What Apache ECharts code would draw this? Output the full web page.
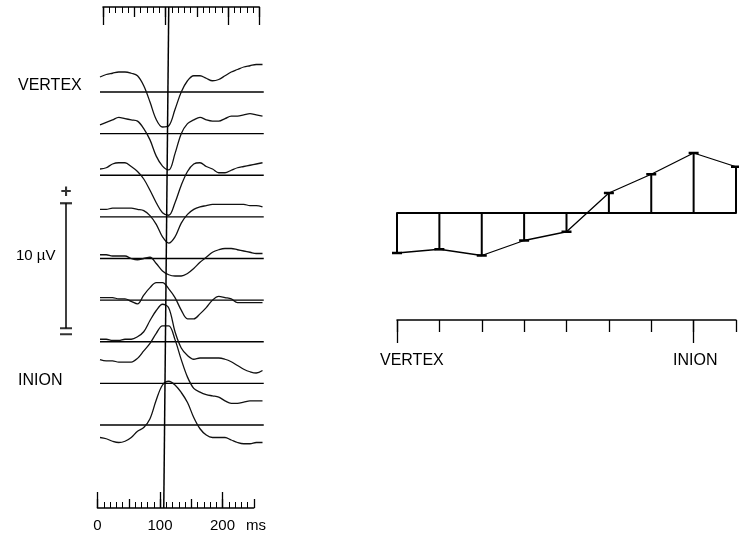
<!DOCTYPE html>
<html>
<head>
<meta charset="utf-8">
<script src="https://cdn.jsdelivr.net/npm/echarts@6/dist/echarts.min.js"></script>
<style>
  html, body { margin: 0; background: #fff; }
  #chart { width: 739px; height: 542px; }
</style>
</head>
<body>
<div id="chart"></div>
<script>
// latency of each sample (ms)
const times = [0, 10, 20, 30, 40, 50, 60, 70, 80, 90, 100, 110, 120, 130, 140, 150, 160, 170, 180, 190, 200, 210, 220, 230, 240, 250, 260];

// evoked responses (µV), vertex (top) to inion (bottom)
const trace1 = [1.2, 1.4, 1.5, 1.6, 1.6, 1.5, 1.3, 0.5, -0.8, -2.2, -2.8, -2.7, -1.4, 0, 0.9, 1.3, 1.3, 1.1, 0.9, 1.0, 1.3, 1.6, 1.8, 2.0, 2.1, 2.2, 2.2];
const trace2 = [0.7, 0.9, 1.1, 1.3, 1.2, 1.1, 1.0, 0.4, -0.5, -1.8, -2.6, -2.9, -1.6, 0, 0.8, 1.1, 1.3, 1.1, 1.0, 1.0, 1.2, 1.4, 1.4, 1.5, 1.6, 1.5, 1.4];
const trace3 = [0.5, 0.6, 0.9, 1.0, 1.0, 0.7, 0.3, -0.3, -1.2, -2.2, -3.0, -3.2, -2.2, -0.8, 0.3, 0.9, 1.0, 0.7, 0.5, 0.2, 0.2, 0.4, 0.6, 0.7, 0.8, 0.9, 1.0];
const trace4 = [0.6, 0.6, 0.7, 0.7, 0.7, 0.7, 0.6, 0.5, 0.1, -0.6, -1.6, -2.1, -1.6, -0.5, 0.2, 0.6, 0.8, 0.9, 1.0, 1.0, 1.0, 1.0, 1.0, 1.0, 0.9, 0.9, 0.8];
const trace5 = [0.3, 0.3, 0.2, 0.2, 0.2, 0, -0.1, 0, 0.1, -0.4, -1.0, -1.3, -1.4, -1.4, -1.2, -0.8, -0.3, 0.1, 0.5, 0.7, 0.8, 0.8, 0.7, 0.6, 0.5, 0.4, 0.4];
const trace6 = [0.2, 0.2, 0.2, 0.1, 0.1, -0.1, -0.3, 0.4, 1.0, 1.4, 1.4, 0.9, 0.2, -0.8, -1.5, -1.5, -1.1, -0.6, 0, 0.3, 0.2, 0.1, -0.2, -0.2, -0.2, -0.2, -0.2];
const trace7 = [0.2, 0.2, 0.1, 0.1, 0.2, 0.2, 0.4, 0.8, 1.7, 2.5, 3.0, 2.7, 0.8, -0.5, -1.1, -1.4, -1.3, -1.3, -1.3, -1.3, -1.4, -1.6, -1.9, -2.2, -2.4, -2.5, -2.3];
const trace8 = [1.9, 1.8, 1.8, 1.7, 1.7, 1.7, 2.0, 2.6, 3.2, 4.0, 4.6, 4.6, 3.5, 1.9, 0.5, -0.4, -0.7, -0.9, -1.0, -1.1, -1.4, -1.6, -1.6, -1.5, -1.4, -1.4, -1.4];
const trace9 = [-1.0, -1.1, -1.3, -1.4, -1.3, -1.0, -0.5, -0.2, 0.5, 2.0, 3.2, 3.5, 3.2, 2.6, 1.8, 0.6, -0.3, -0.8, -1.0, -1.0, -1.0, -1.2, -1.4, -1.5, -1.5, -1.4, -1.4];

// amplitude at the peak latency per electrode (µV)
const electrodes = ['1', '2', '3', '4', '5', '6', '7', '8', '9'];
const amplitudes = [-3.2, -2.9, -3.4, -2.2, -1.5, 1.6, 3.1, 4.8, 3.7];

const timeLabels = [0, 100, 200];
const scaleBarUV = 10;
const peakLineTop = 110;     // ms, the line is slightly tilted in the scan
const peakLineBottom = 102;

// layout
const FONT = '"Liberation Sans", Arial, sans-serif';
const Y_MIN = -40.08;        // 12.5 px per µV over 501 px
const baseOf = k => -6.8 - 3.33 * k;
const SCALE_TOP = -15.7;
const BLACK = '#000';

const traces = [trace1, trace2, trace3, trace4, trace5, trace6, trace7, trace8, trace9];

const series = [];
traces.forEach((tr, k) => {
  const b = baseOf(k);
  series.push({
    type: 'line', xAxisIndex: 0, yAxisIndex: 0, symbol: 'none', silent: true,
    data: [[0, b], [262, b]],
    lineStyle: { color: BLACK, width: 1.4 }
  });
  series.push({
    type: 'line', xAxisIndex: 0, yAxisIndex: 0, symbol: 'none', smooth: 0.35,
    data: tr.map((v, i) => [times[i], v + b]),
    lineStyle: { color: '#111', width: 1.3 }
  });
});

// vertical latency marker
series.push({
  type: 'line', xAxisIndex: 0, yAxisIndex: 0, symbol: 'none', silent: true,
  data: [[peakLineTop, 0], [peakLineBottom, Y_MIN]],
  lineStyle: { color: BLACK, width: 1.5 }
});

// 10 µV calibration bar
series.push({
  type: 'line', xAxisIndex: 5, yAxisIndex: 5, symbol: 'none', silent: true,
  data: [[0, SCALE_TOP], [0, SCALE_TOP - scaleBarUV]],
  lineStyle: { color: BLACK, width: 1.5 }
});
series.push({
  type: 'scatter', xAxisIndex: 5, yAxisIndex: 5, silent: true,
  data: [[0, SCALE_TOP]], symbol: 'rect', symbolSize: [12, 2.2],
  itemStyle: { color: BLACK },
  label: { show: true, position: 'top', distance: 1, formatter: '+', color: BLACK, fontSize: 19, fontWeight: 'bold', fontFamily: FONT }
});
series.push({
  type: 'scatter', xAxisIndex: 5, yAxisIndex: 5, silent: true,
  data: [[0, SCALE_TOP - scaleBarUV]],
  symbol: 'path://M0,0H12V2H0ZM0,6H12V8H0Z', symbolSize: [12, 8], symbolOffset: [0, 3],
  itemStyle: { color: BLACK }
});

// right panel: amplitude profile
series.push({
  type: 'bar', xAxisIndex: 6, yAxisIndex: 6, barWidth: 2, silent: true,
  data: amplitudes.map((v, i) => [i, v]),
  itemStyle: { color: BLACK }
});
series.push({
  type: 'line', xAxisIndex: 6, yAxisIndex: 6, silent: true,
  data: amplitudes.map((v, i) => [i, v]),
  symbol: 'rect', symbolSize: [10, 2.5],
  itemStyle: { color: BLACK },
  lineStyle: { color: BLACK, width: 1.3 }
});

const hidden = (gridIndex, min, max) => ({ gridIndex, type: 'value', min, max, show: false });

const ruler = (gridIndex, position, max, interval, len, withLine, minor) => ({
  gridIndex, type: 'value', position, min: 0, max, interval,
  axisLine: { show: withLine, onZero: false, lineStyle: { color: BLACK, width: 1.5 } },
  axisTick: { show: true, inside: true, length: len, lineStyle: { color: BLACK, width: 1.3 } },
  minorTick: { show: minor, splitNumber: 5, length: 6, lineStyle: { color: BLACK, width: 1 } },
  axisLabel: { show: false },
  splitLine: { show: false }
});

const bottomLabels = ruler(4, 'bottom', 200, 100, 16, false, false);
bottomLabels.axisLabel = {
  show: true, margin: 10, color: BLACK, fontSize: 15, fontFamily: FONT,
  formatter: v => (timeLabels.indexOf(v) >= 0 ? String(v) : '')
};

const option = {
  backgroundColor: '#fff',
  animation: false,
  grid: [
    { left: 100, top: 7, width: 163.75, height: 501 },   // 0 traces
    { left: 103, top: 7, width: 156.25, height: 50 },    // 1 top ruler
    { left: 103, top: 7, width: 156.25, height: 50 },    // 2 top ruler long ticks
    { left: 97.5, top: 458, width: 156.25, height: 50 }, // 3 bottom ruler
    { left: 97.5, top: 458, width: 125, height: 50 },    // 4 bottom ruler long ticks
    { left: 61, top: 7, width: 10, height: 501 },        // 5 calibration bar
    { left: 397, top: 150.5, width: 339, height: 125 },  // 6 amplitude profile
    { left: 397, top: 300, width: 339, height: 20 },     // 7 electrode ruler
    { left: 397, top: 300, width: 339, height: 20 }      // 8 electrode ruler long ticks
  ],
  xAxis: [
    hidden(0, 0, 262),
    ruler(1, 'top', 250, 50, 10, true, true),
    ruler(2, 'top', 250, 100, 18, false, false),
    ruler(3, 'bottom', 250, 50, 9, true, true),
    bottomLabels,
    hidden(5, -1, 1),
    {
      gridIndex: 6, type: 'value', min: 0, max: 8,
      axisLine: { show: true, onZero: true, lineStyle: { color: BLACK, width: 2 } },
      axisTick: { show: false }, axisLabel: { show: false }, splitLine: { show: false }
    },
    {
      gridIndex: 7, type: 'category', data: electrodes, boundaryGap: false, position: 'bottom',
      axisLine: { show: true, onZero: false, lineStyle: { color: BLACK, width: 1.5 } },
      axisTick: { show: true, length: 12, interval: 0, lineStyle: { color: BLACK, width: 1.3 } },
      axisLabel: { show: false }, splitLine: { show: false }
    },
    {
      gridIndex: 8, type: 'category', data: electrodes, boundaryGap: false, position: 'bottom',
      axisLine: { show: false, onZero: false },
      axisTick: { show: true, length: 23, interval: i => i === 0 || i === 7, lineStyle: { color: BLACK, width: 1.3 } },
      axisLabel: { show: false }, splitLine: { show: false }
    }
  ],
  yAxis: [
    hidden(0, Y_MIN, 0),
    hidden(1, 0, 1),
    hidden(2, 0, 1),
    hidden(3, 0, 1),
    hidden(4, 0, 1),
    hidden(5, Y_MIN, 0),
    hidden(6, -5, 5),
    hidden(7, 0, 1),
    hidden(8, 0, 1)
  ],
  graphic: [
    { type: 'text', x: 18, y: 86, style: { text: 'VERTEX', fill: BLACK, fontSize: 16, fontFamily: FONT, verticalAlign: 'middle' } },
    { type: 'text', x: 18, y: 381, style: { text: 'INION', fill: BLACK, fontSize: 16, fontFamily: FONT, verticalAlign: 'middle' } },
    { type: 'text', x: 16, y: 256, style: { text: '10 µV', fill: BLACK, fontSize: 15, fontFamily: FONT, verticalAlign: 'middle' } },
    { type: 'text', x: 246, y: 526, style: { text: 'ms', fill: BLACK, fontSize: 15, fontFamily: FONT, verticalAlign: 'middle' } },
    { type: 'text', x: 380, y: 361, style: { text: 'VERTEX', fill: BLACK, fontSize: 16, fontFamily: FONT, verticalAlign: 'middle' } },
    { type: 'text', x: 673, y: 361, style: { text: 'INION', fill: BLACK, fontSize: 16, fontFamily: FONT, verticalAlign: 'middle' } }
  ],
  series
};

const chart = echarts.init(document.getElementById('chart'));
chart.setOption(option);
</script>
</body>
</html>
